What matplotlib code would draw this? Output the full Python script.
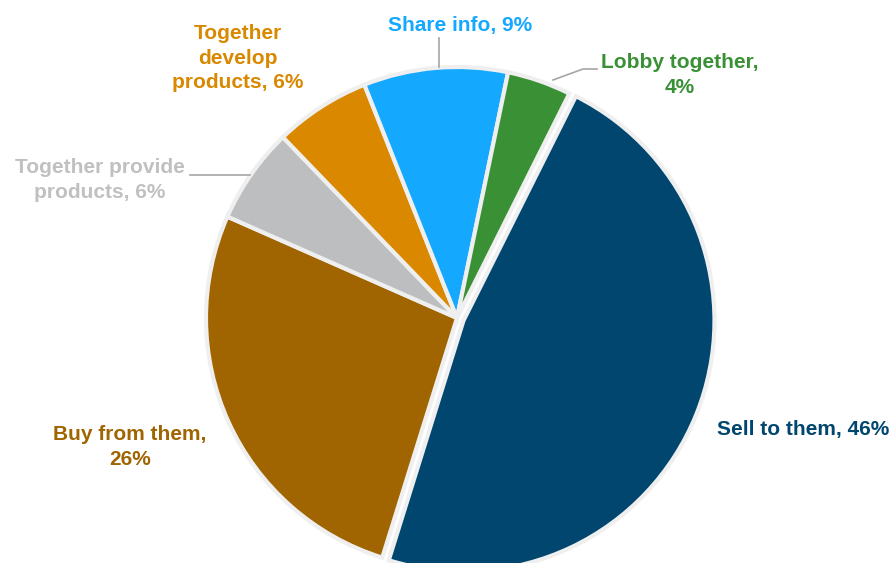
import matplotlib
matplotlib.use("Agg")
import matplotlib.pyplot as plt

categories = ["Sell to them", "Buy from them", "Together provide products",
              "Together develop products", "Share info", "Lobby together"]
values = [46, 26, 6, 6, 9, 4]
colors = ["#00466E", "#A06400", "#BCBEC0", "#D98800", "#14A8FF", "#3A9135"]
label_texts = ["Sell to them, 46%", "Buy from them,\n26%", "Together provide\nproducts, 6%",
               "Together\ndevelop\nproducts, 6%", "Share info, 9%", "Lobby together,\n4%"]
label_colors = ["#00466E", "#A06400", "#C0C0C0", "#D98800", "#14A8FF", "#3A9135"]

W, H = 891, 563
fig = plt.figure(figsize=(W / 100, H / 100), dpi=100)
ax = fig.add_axes([0, 0, 1, 1])

cx, cy, r = 457, H - 318, 251
# explode is in data units (pixels here)
explode = [7, 0, 0, 0, 0, 0]
wedges, _ = ax.pie(values, colors=colors, startangle=63.4, counterclock=False,
                   center=(cx, cy), radius=r, explode=explode,
                   wedgeprops=dict(edgecolor="#EFEFEF", linewidth=3))
ax.set_xlim(0, W)
ax.set_ylim(0, H)
ax.set_aspect("equal")
ax.axis("off")

pos = [(803, 430), (130, 447), (100, 180), (238, 58), (460, 26), (680, 75)]
for (x, y), t, c in zip(pos, label_texts, label_colors):
    ax.text(x, H - y, t, color=c, fontsize=15, fontweight="bold",
            ha="center", va="center", linespacing=1.38,
            family=["Liberation Sans", "DejaVu Sans"])

lc = "#A6A6A6"
ax.plot([439, 439], [H - 38, H - 67], color=lc, lw=1.2)
ax.plot([553, 583, 597], [H - 80, H - 69, H - 69], color=lc, lw=1.2)
ax.plot([190, 250], [H - 175, H - 175], color=lc, lw=1.2)

fig.savefig("out.png", dpi=100)
